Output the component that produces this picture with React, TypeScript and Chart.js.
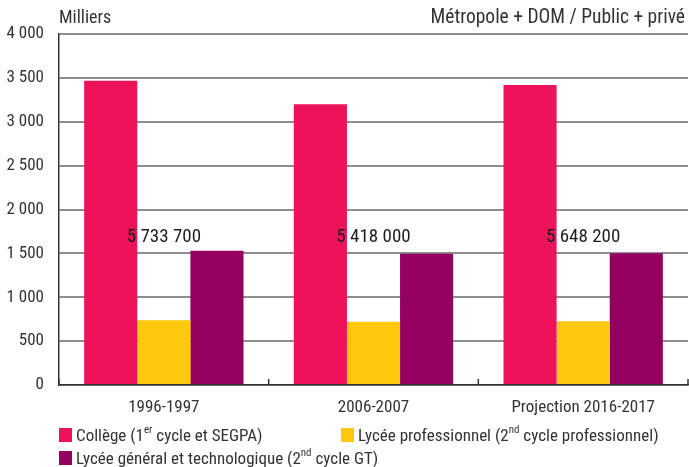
import React, { useEffect, useRef } from "react";
import { Chart, registerables } from "chart.js";

Chart.register(...registerables);

const categories = ["1996-1997", "2006-2007", "Projection 2016-2017"];
const college = [3466, 3200, 3420];
const lyceePro = [739, 722, 727];
const lyceeGT = [1529, 1496, 1501];
const totals = ["5 733 700", "5 418 000", "5 648 200"];
const totalLabelLevel = 1680;
const yTicks = [0, 500, 1000, 1500, 2000, 2500, 3000, 3500, 4000];

const COL_COLLEGE = "#ED1259";
const COL_PRO = "#FEC80C";
const COL_GT = "#940060";
const FONT = '"Roboto Condensed", "DejaVu Sans Condensed", sans-serif';

function fmt(v: number): string {
  return String(v).replace(/\B(?=(\d{3})+(?!\d))/g, " ");
}

const overlayPlugin = {
  id: "overlay",
  afterDatasetsDraw(chart: any) {
    const ctx = chart.ctx;
    const xs = chart.scales.x;
    const ys = chart.scales.y;
    const area = chart.chartArea;
    ctx.save();
    ctx.strokeStyle = "#333";
    ctx.lineWidth = 1.5;
    for (let i = 0; i <= categories.length; i++) {
      const x =
        i === 0
          ? area.left
          : i === categories.length
          ? area.right
          : (xs.getPixelForValue(i - 1) + xs.getPixelForValue(i)) / 2;
      ctx.beginPath();
      ctx.moveTo(x, area.bottom);
      ctx.lineTo(x, area.bottom - 6);
      ctx.stroke();
    }
    ctx.fillStyle = "#1e1e1e";
    ctx.font = "19px " + FONT;
    ctx.textAlign = "center";
    ctx.textBaseline = "middle";
    totals.forEach((t, i) => {
      ctx.fillText(t, xs.getPixelForValue(i), ys.getPixelForValue(totalLabelLevel));
    });
    ctx.restore();
  },
};

export default function App() {
  const ref = useRef<HTMLCanvasElement | null>(null);
  useEffect(() => {
    if (!ref.current) return;
    const chart = new Chart(ref.current, {
      type: "bar",
      data: {
        labels: categories,
        datasets: [
          { label: "Collège", data: college, backgroundColor: COL_COLLEGE },
          { label: "Lycée professionnel", data: lyceePro, backgroundColor: COL_PRO },
          { label: "Lycée général et technologique", data: lyceeGT, backgroundColor: COL_GT },
        ],
      },
      options: {
        animation: false,
        responsive: false,
        maintainAspectRatio: false,
        layout: { padding: { top: 34, right: 1, bottom: 42, left: 0 } },
        datasets: { bar: { barPercentage: 1, categoryPercentage: 0.76 } } as any,
        plugins: { legend: { display: false }, tooltip: { enabled: false } },
        scales: {
          x: {
            grid: { display: false, drawTicks: false },
            border: { display: true, color: "#333", width: 1.5 },
            afterFit: (s: any) => {
              s.height = 40;
            },
            ticks: { color: "#333", font: { family: FONT, size: 17 }, padding: 13 },
          },
          y: {
            min: 0,
            max: 4000,
            afterBuildTicks: (s: any) => {
              s.ticks = yTicks.map((v) => ({ value: v }));
            },
            afterFit: (s: any) => {
              s.width = 59;
            },
            grid: { color: "#8e8e8e", lineWidth: 2, drawTicks: false },
            border: { display: true, color: "#333", width: 1.5 },
            ticks: {
              color: "#333",
              font: { family: FONT, size: 17 },
              padding: 15,
              callback: (v: any) => fmt(Number(v)),
            },
          },
        },
      },
      plugins: [overlayPlugin],
    });
    return () => chart.destroy();
  }, []);

  const textStyle: React.CSSProperties = {
    position: "absolute",
    fontFamily: FONT,
    color: "#333",
    whiteSpace: "nowrap",
    lineHeight: "18px",
  };
  const sq = (c: string, x: number, y: number) => (
    <div style={{ position: "absolute", left: x, top: y, width: 13, height: 14, background: c }} />
  );
  const sup: React.CSSProperties = { fontSize: 11, verticalAlign: "top", lineHeight: "10px", position: "relative", top: -1 };

  return (
    <div style={{ position: "fixed", left: 0, top: 0, width: 689, height: 467, background: "#fff", overflow: "hidden" }}>
      <canvas ref={ref} width={689} height={467} style={{ position: "absolute", left: 0, top: 0, width: 689, height: 467 }} />
      <div style={{ ...textStyle, left: 59, top: 8, fontSize: 18 }}>Milliers</div>
      <div style={{ ...textStyle, right: 4, top: 8, fontSize: 19.5 }}>Métropole + DOM / Public + privé</div>
      {sq(COL_COLLEGE, 59, 428)}
      <div style={{ ...textStyle, left: 76, top: 426, fontSize: 17 }}>
        Collège (1<span style={sup}>er</span> cycle et SEGPA)
      </div>
      {sq(COL_PRO, 341, 428)}
      <div style={{ ...textStyle, left: 358, top: 426, fontSize: 17 }}>
        Lycée professionnel (2<span style={sup}>nd</span> cycle professionnel)
      </div>
      {sq(COL_GT, 59, 451)}
      <div style={{ ...textStyle, left: 76, top: 449, fontSize: 17 }}>
        Lycée général et technologique (2<span style={sup}>nd</span> cycle GT)
      </div>
    </div>
  );
}
